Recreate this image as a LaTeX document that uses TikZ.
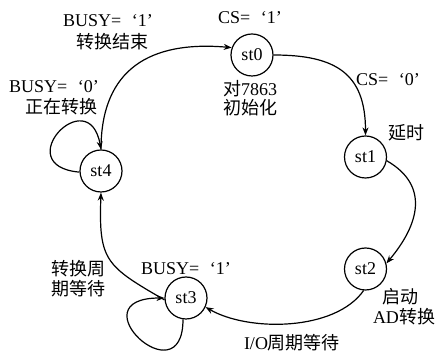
\documentclass[tikz,border=0pt]{standalone}
\usepackage{fontspec}
\setmainfont{Liberation Serif}
\newfontfamily\cjk{Noto Sans CJK SC}
\usetikzlibrary{arrows.meta}
\begin{document}
\begin{tikzpicture}[x=1pt,y=1pt,
  every node/.style={font=\fontsize{18}{21}\selectfont},
  state/.style={draw,circle,line width=1.2pt,minimum size=42pt,inner sep=0pt},
  lab/.style={inner sep=0pt},
  arr/.style={line width=1.2pt,-{Stealth[length=8pt,width=6pt]}}]
\useasboundingbox (0,0) rectangle (437,353);
\node[state] (st0) at (252,298) {st0};
\node[state] (st1) at (365.5,196) {st1};
\node[state] (st2) at (365.5,84) {st2};
\node[state] (st3) at (186,55) {st3};
\node[state] (st4) at (101,182) {st4};
% labels
\node[lab] (b1a) at (108,332) {BUSY=\hspace{0.6em}‘1’};
\node[lab] (b1b) at (112,311) {\cjk 转换结束};
\node[lab] (b0a) at (54,266) {BUSY=\hspace{0.6em}‘0’};
\node[lab] (b0b) at (61,246) {\cjk 正在转换};
\node[lab] (cs1) at (250,335) {CS=\hspace{0.6em}‘1’};
\node[lab] (ini1) at (250,264) {{\cjk 对}7863};
\node[lab] (ini2) at (250,245) {\cjk 初始化};
\node[lab] (cs0) at (388,273) {CS=\hspace{0.6em}‘0’};
\node[lab] (dly) at (406,220) {\cjk 延时};
\node[lab] (sta1) at (400,56) {\cjk 启动};
\node[lab] (sta2) at (404,36) {AD{\cjk 转换}};
\node[lab] (io) at (292,10) {I/O{\cjk 周期等待}};
\node[lab] (b3) at (186,84) {BUSY=\hspace{0.6em}‘1’};
\node[lab] (w1) at (78,84) {\cjk 转换周};
\node[lab] (w2) at (78,64) {\cjk 期等待};
% transitions
\draw[arr] (st4.north) to[out=90,in=175,looseness=1.25] (st0.160);
\draw[arr] (st0.east) to[out=0,in=90,looseness=1.3] (st1.north);
\draw[arr] (st1.-10) to[out=-30,in=50,looseness=1.25] (st2.15);
\draw[arr] (st2.-95) to[out=-125,in=-30,looseness=0.8] (st3.-25);
\draw[arr] (st3.185) to[out=150,in=-92,looseness=1.4] (st4.south);
% self loops
\draw[arr] (st4.183) to[out=175,in=100,out distance=72pt,in distance=70pt] (st4.north);
\draw[arr] (st3.-98) to[out=-90,in=180,out distance=80pt,in distance=90pt] (st3.180);
\end{tikzpicture}
\end{document}
